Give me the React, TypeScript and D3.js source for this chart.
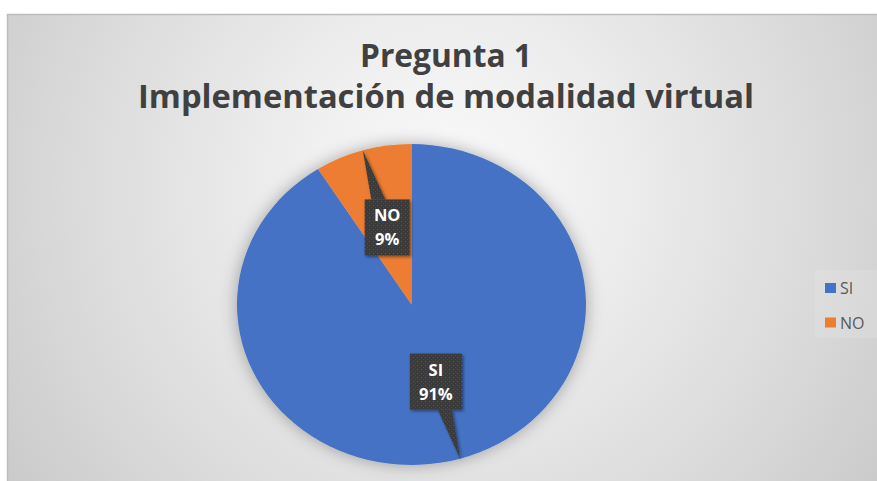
import React, { useEffect, useRef } from "react";
import * as d3 from "d3";

const categories = ["SI", "NO"];
const values = [91, 9];
const percentLabels = ["91%", "9%"];
const colors = ["#4472C4", "#ED7D31"];
const titleLines = ["Pregunta 1", "Implementación de modalidad virtual"];

const W = 877;
const H = 481;

export default function App() {
  const ref = useRef<SVGSVGElement | null>(null);

  useEffect(() => {
    document.body.style.margin = "0";
    const svg = d3.select(ref.current);
    svg.selectAll("*").remove();

    const defs = svg.append("defs");
    const rg = defs
      .append("radialGradient")
      .attr("id", "bg")
      .attr("gradientUnits", "userSpaceOnUse")
      .attr("cx", 446)
      .attr("cy", 190)
      .attr("r", 540);
    [
      [0, "#fbfbfb"],
      [0.3, "#eeeeee"],
      [0.7, "#dadada"],
      [1, "#c9c9c9"],
    ].forEach(([o, c]) => rg.append("stop").attr("offset", o as number).attr("stop-color", c as string));

    const sh = defs.append("filter").attr("id", "pieShadow").attr("x", "-20%").attr("y", "-20%").attr("width", "140%").attr("height", "140%");
    sh.append("feDropShadow").attr("dx", 0).attr("dy", 0).attr("stdDeviation", 8).attr("flood-color", "#000").attr("flood-opacity", 0.32);

    const bsh = defs.append("filter").attr("id", "boxShadow").attr("x", "-30%").attr("y", "-30%").attr("width", "160%").attr("height", "160%");
    bsh.append("feDropShadow").attr("dx", 1.5).attr("dy", 1.5).attr("stdDeviation", 1.5).attr("flood-color", "#000").attr("flood-opacity", 0.45);

    const pat = defs.append("pattern").attr("id", "dots").attr("patternUnits", "userSpaceOnUse").attr("width", 4).attr("height", 4);
    pat.append("rect").attr("width", 4).attr("height", 4).attr("fill", "#3b3b3b");
    pat.append("rect").attr("x", 1).attr("y", 1).attr("width", 1).attr("height", 1).attr("fill", "#555555");
    pat.append("rect").attr("x", 3).attr("y", 3).attr("width", 1).attr("height", 1).attr("fill", "#4a4a4a");

    // chart area
    svg.append("rect").attr("x", 0).attr("y", 0).attr("width", W).attr("height", H).attr("fill", "#ffffff");
    svg
      .append("rect")
      .attr("x", 7.5)
      .attr("y", 14.5)
      .attr("width", W + 20)
      .attr("height", H + 20)
      .attr("fill", "url(#bg)")
      .attr("stroke", "#bdbdbd")
      .attr("stroke-width", 1.5);

    // title
    const titleY = [67, 108];
    const titleW = [172, 616];
    const titleX = 446;
    titleLines.forEach((t, i) => {
      svg
        .append("text")
        .attr("x", titleX)
        .attr("y", titleY[i])
        .attr("text-anchor", "middle")
        .attr("font-family", "'Open Sans', sans-serif")
        .attr("font-weight", 700)
        .attr("font-size", 33)
        .attr("fill", "#404040")
        .attr("textLength", titleW[i])
        .attr("lengthAdjust", "spacingAndGlyphs")
        .text(t);
    });

    // pie
    const cx = 411.5;
    const cy = 304.5;
    const ry = 160.5;
    const rx = 174.5;
    const sx = rx / ry;

    const data = categories.map((c, i) => ({ c, v: values[i], p: percentLabels[i], color: colors[i] }));
    const pie = d3.pie<any>().sort(null).value((d) => d.v);
    const arcs = pie(data);
    const arc = d3.arc<any>().innerRadius(0).outerRadius(ry);

    const g = svg.append("g").attr("transform", `translate(${cx},${cy}) scale(${sx},1)`);
    const pg = g.append("g").attr("filter", "url(#pieShadow)");
    pg.selectAll("path")
      .data(arcs)
      .join("path")
      .attr("d", arc as any)
      .attr("fill", (d: any) => d.data.color);

    // labels
    const ctx = document.createElement("canvas").getContext("2d")!;
    const fs = 16.5;
    ctx.font = `700 ${fs}px 'Open Sans'`;
    const labelLayer = svg.append("g");
    arcs.forEach((a: any) => {
      const [mx, my] = arc.centroid(a);
      const bx = cx + mx * sx;
      const by = cy + my;
      const mid = (a.startAngle + a.endAngle) / 2;
      const tipX = cx + Math.sin(mid) * ry * sx;
      const tipY = cy - Math.cos(mid) * ry;
      const lines = [a.data.c, a.data.p];
      const tw = Math.max(...lines.map((l) => ctx.measureText(l).width));
      const bw = Math.round(tw + 18);
      const bh = 56;
      const x0 = bx - bw / 2;
      const y0 = by - bh / 2;
      // pointer
      const edgeY = tipY < by ? y0 : y0 + bh;
      const t = (edgeY - by) / (tipY - by);
      let ex = bx + (tipX - bx) * t;
      ex = Math.max(x0 + 7, Math.min(x0 + bw - 7, ex));
      const lg = labelLayer.append("g").attr("filter", "url(#boxShadow)");
      lg.append("path")
        .attr("d", `M${ex - 7},${edgeY} L${tipX},${tipY} L${ex + 7},${edgeY} Z`)
        .attr("fill", "url(#dots)");
      lg.append("rect")
        .attr("x", x0)
        .attr("y", y0)
        .attr("width", bw)
        .attr("height", bh)
        .attr("fill", "url(#dots)");
      lines.forEach((l, i) => {
        labelLayer
          .append("text")
          .attr("x", bx)
          .attr("y", by - 6 + i * 24)
          .attr("text-anchor", "middle")
          .attr("font-family", "'Open Sans', sans-serif")
          .attr("font-weight", 700)
          .attr("font-size", fs)
          .attr("fill", "#ffffff")
          .text(l);
      });
    });

    // legend
    const lgY = d3.scalePoint<string>().domain(categories).range([288, 322.5]);
    const leg = svg.append("g");
    leg.append("rect").attr("x", 815).attr("y", 270).attr("width", 70).attr("height", 68).attr("fill", "#ffffff").attr("opacity", 0.12);
    categories.forEach((c, i) => {
      const y = lgY(c)!;
      leg.append("rect").attr("x", 825).attr("y", y - 5).attr("width", 11).attr("height", 10).attr("fill", colors[i]);
      leg
        .append("text")
        .attr("x", 840)
        .attr("y", y + 6)
        .attr("font-family", "'Open Sans', sans-serif")
        .attr("font-size", 16)
        .attr("fill", "#595959")
        .text(c);
    });
  }, []);

  return (
    <svg
      ref={ref}
      width={W}
      height={H}
      style={{ position: "absolute", left: 0, top: 0, display: "block" }}
    />
  );
}
